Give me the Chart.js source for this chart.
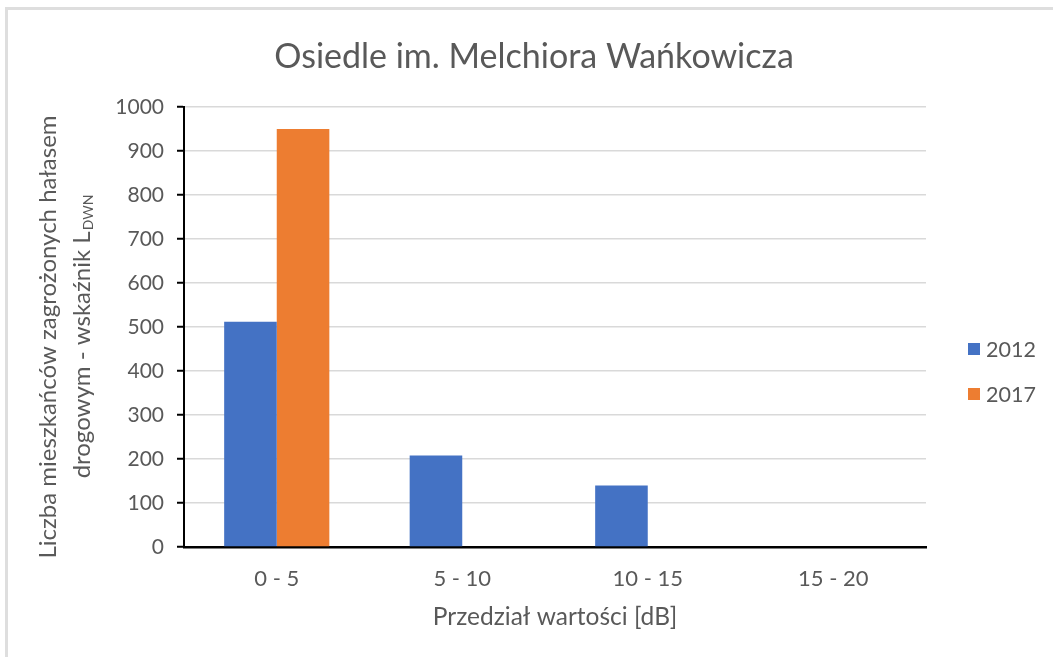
<!DOCTYPE html>
<html lang="pl">
<head>
<meta charset="utf-8">
<title>Osiedle im. Melchiora Wańkowicza</title>
<script src="https://cdn.jsdelivr.net/npm/chart.js@4/dist/chart.umd.min.js"></script>
<style>
  html, body { margin: 0; padding: 0; background: #fff; }
  #wrap { position: relative; width: 1053px; height: 657px; overflow: hidden; }
  #frame { position: absolute; left: 5px; top: 7px; right: -10px; bottom: -10px;
           border-top: 3px solid #dedede; border-left: 3px solid #dedede; pointer-events: none; }
  canvas { position: absolute; left: 0; top: 0; }
</style>
</head>
<body>
<div id="wrap">
  <canvas id="chart" width="1053" height="657"></canvas>
  <div id="frame"></div>
</div>
<script>
const categories = ['0 - 5', '5 - 10', '10 - 15', '15 - 20'];
const years = ['2012', '2017'];
const values2012 = [512, 208, 140, 0];
const values2017 = [950, 0, 0, 0];
const yTicks = [0, 100, 200, 300, 400, 500, 600, 700, 800, 900, 1000];

const FONT = 'Lato, "Open Sans", sans-serif';
const TEXT = '#595959';
const colors = ['#4472c4', '#ed7d31'];

// chart title, centred on the whole canvas (legend column included)
const topTitlePlugin = {
  id: 'topTitle',
  afterDraw(chart) {
    const { ctx } = chart;
    ctx.save();
    ctx.fillStyle = TEXT;
    ctx.font = '34px ' + FONT;
    ctx.textAlign = 'center';
    ctx.textBaseline = 'middle';
    ctx.fillText('Osiedle im. Melchiora Wańkowicza', 534, 57);
    ctx.restore();
  }
};

// y-axis title: two rotated lines, second one ends with L and subscript DWN
const yTitlePlugin = {
  id: 'yTitle',
  afterDraw(chart) {
    const { ctx } = chart;
    ctx.save();
    ctx.fillStyle = TEXT;
    ctx.textBaseline = 'middle';
    ctx.translate(48, 337);
    ctx.rotate(-Math.PI / 2);
    ctx.font = '24px ' + FONT;
    ctx.textAlign = 'center';
    ctx.fillText('Liczba mieszkańców zagrożonych hałasem', 0, 0);

    const main = 'drogowym - wskaźnik L';
    const sub = 'DWN';
    const wMain = ctx.measureText(main).width;
    ctx.font = '14px ' + FONT;
    const wSub = ctx.measureText(sub).width;
    const x0 = -(wMain + wSub) / 2;
    ctx.textAlign = 'left';
    ctx.font = '24px ' + FONT;
    ctx.fillText(main, x0, 34);
    ctx.font = '14px ' + FONT;
    ctx.fillText(sub, x0 + wMain + 1, 40);
    ctx.restore();
  }
};

// legend on the right with square markers
const sideLegendPlugin = {
  id: 'sideLegend',
  afterDraw(chart) {
    const { ctx } = chart;
    ctx.save();
    ctx.font = '21.5px ' + FONT;
    ctx.textBaseline = 'middle';
    ctx.textAlign = 'left';
    chart.data.datasets.forEach((ds, i) => {
      const y = 349 + i * 45;
      ctx.fillStyle = ds.backgroundColor;
      ctx.fillRect(968, y - 6, 12, 12);
      ctx.fillStyle = TEXT;
      ctx.fillText(ds.label, 986, y + 1);
    });
    ctx.restore();
  }
};

new Chart(document.getElementById('chart'), {
  type: 'bar',
  data: {
    labels: categories,
    datasets: [
      { label: years[0], data: values2012, backgroundColor: colors[0] },
      { label: years[1], data: values2017, backgroundColor: colors[1] }
    ]
  },
  options: {
    responsive: false,
    animation: false,
    devicePixelRatio: 1,
    layout: { padding: { left: 0, right: 127, top: 107, bottom: 0 } },
    datasets: { bar: { barPercentage: 1, categoryPercentage: 0.567 } },
    plugins: {
      legend: { display: false },
      tooltip: { enabled: false },
      title: { display: false }
    },
    scales: {
      x: {
        grid: { display: false, drawTicks: false },
        border: { color: '#000', width: 2.5 },
        ticks: { color: TEXT, font: { family: FONT, size: 22 }, padding: 19 },
        title: {
          display: true,
          text: 'Przedział wartości [dB]',
          color: TEXT,
          font: { family: FONT, size: 24.5 },
          padding: { top: 0, bottom: 25 }
        },
        afterFit(scale) { scale.height = 110; }
      },
      y: {
        min: 0,
        max: 1000,
        afterBuildTicks(scale) { scale.ticks = yTicks.map(v => ({ value: v })); },
        grid: { color: '#d9d9d9', lineWidth: 1.5, tickColor: '#000', tickLength: 7, tickWidth: 2 },
        border: { color: '#000', width: 2 },
        ticks: {
          color: TEXT,
          font: { family: FONT, size: 21 },
          padding: 13,
          callback: v => String(v)
        },
        afterFit(scale) { scale.width = 184; }
      }
    }
  },
  plugins: [topTitlePlugin, yTitlePlugin, sideLegendPlugin]
});
</script>
</body>
</html>
